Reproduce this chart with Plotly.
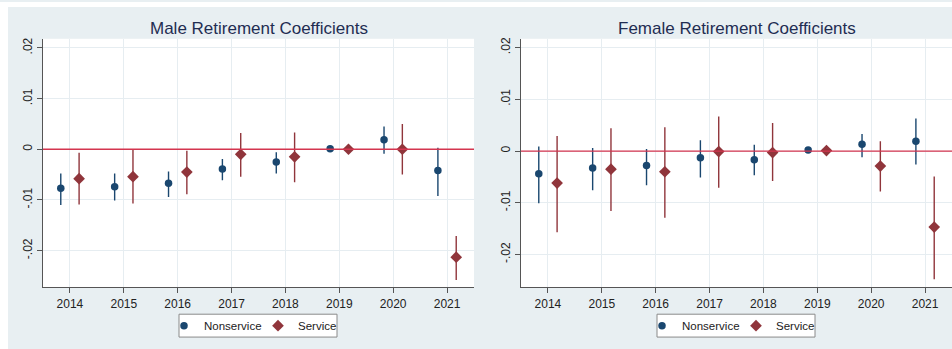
import plotly.graph_objects as go

years = [2014, 2015, 2016, 2017, 2018, 2019, 2020, 2021]

# Male panel
male_nonservice = [-0.0077, -0.0074, -0.0067, -0.0039, -0.0025, 0.0001, 0.0019, -0.0042]
male_nonservice_hi = [-0.0048, -0.0048, -0.0044, -0.0019, -0.0006, 0.0001, 0.0045, 0.0003]
male_nonservice_lo = [-0.0110, -0.0101, -0.0094, -0.0061, -0.0048, 0.0001, -0.0009, -0.0092]
male_service = [-0.0058, -0.0054, -0.0045, -0.0010, -0.0015, 0.0000, 0.0000, -0.0213]
male_service_hi = [-0.0007, 0.0000, -0.0003, 0.0032, 0.0033, 0.0000, 0.0050, -0.0171]
male_service_lo = [-0.0109, -0.0107, -0.0089, -0.0054, -0.0065, 0.0000, -0.0050, -0.0258]

# Female panel
female_nonservice = [-0.0044, -0.0033, -0.0028, -0.0013, -0.0017, 0.0002, 0.0013, 0.0019]
female_nonservice_hi = [0.0009, 0.0006, 0.0004, 0.0021, 0.0012, 0.0002, 0.0033, 0.0063]
female_nonservice_lo = [-0.0101, -0.0076, -0.0066, -0.0051, -0.0047, 0.0002, -0.0012, -0.0026]
female_service = [-0.0062, -0.0035, -0.0040, -0.0001, -0.0003, 0.0001, -0.0029, -0.0147]
female_service_hi = [0.0029, 0.0044, 0.0046, 0.0067, 0.0054, 0.0001, 0.0019, -0.0049]
female_service_lo = [-0.0157, -0.0116, -0.0129, -0.0071, -0.0058, 0.0001, -0.0078, -0.0248]

y_tick_vals = [-0.02, -0.01, 0, 0.01, 0.02]
y_tick_text = ["-.02", "-.01", "0", ".01", ".02"]
titles = ["Male Retirement Coefficients", "Female Retirement Coefficients"]
series_names = ["Nonservice", "Service"]

W, H = 952, 349
NAVY = "#1a476f"
MAROON = "#90353b"
BG = "#e8eff2"
FONT = "Liberation Sans, Arial, sans-serif"
offset = 0.17

fig = go.Figure()


def add_series(x, y, hi, lo, name, color, symbol, size, xa, ya, legend):
    fig.add_trace(go.Scatter(
        x=[v + (-offset if name == "Nonservice" else offset) for v in x],
        y=y,
        mode="markers",
        name=name,
        marker=dict(color=color, symbol=symbol, size=size, line=dict(width=0)),
        error_y=dict(type="data", symmetric=False,
                     array=[h - v for h, v in zip(hi, y)],
                     arrayminus=[v - l for l, v in zip(lo, y)],
                     color=color, thickness=1.4, width=0),
        xaxis=xa, yaxis=ya, legend=legend, showlegend=True,
    ))


add_series(years, male_nonservice, male_nonservice_hi, male_nonservice_lo,
           series_names[0], NAVY, "circle", 7.5, "x", "y", "legend")
add_series(years, male_service, male_service_hi, male_service_lo,
           series_names[1], MAROON, "diamond", 9, "x", "y", "legend")
add_series(years, female_nonservice, female_nonservice_hi, female_nonservice_lo,
           series_names[0], NAVY, "circle", 7.5, "x2", "y2", "legend2")
add_series(years, female_service, female_service_hi, female_service_lo,
           series_names[1], MAROON, "diamond", 9, "x2", "y2", "legend2")

left_dom = [43 / W, 474 / W]
right_dom = [521 / W, 952 / W]
y_dom = [1 - 287 / H, 1 - 37 / H]

# legend frames (pixel positions converted to paper fractions)
leg_boxes = [(179, 337), (657, 815)]
leg_top, leg_bot = 314, 337

xcommon = dict(tickvals=years, ticktext=[str(y) for y in years], range=[2013.5, 2021.5],
               showgrid=True, gridcolor="#e6edf1", gridwidth=1,
               showline=True, linecolor="#555555", linewidth=1.2,
               ticks="outside", ticklen=5, tickcolor="#555555",
               tickfont=dict(family=FONT, size=12, color="#222222"),
               zeroline=False, fixedrange=True)
ycommon = dict(tickvals=y_tick_vals, ticktext=y_tick_text, tickangle=-90,
               showgrid=True, gridcolor="#e6edf1", gridwidth=1,
               showline=True, linecolor="#555555", linewidth=1.2,
               ticks="outside", ticklen=5, tickcolor="#555555",
               tickfont=dict(family=FONT, size=12, color="#222222"),
               ticklabelstandoff=0,
               zeroline=False, fixedrange=True)

legend_common = dict(orientation="h", bgcolor="rgba(0,0,0,0)", borderwidth=0,
                     font=dict(family=FONT, size=11.5, color="#222222"),
                     xanchor="left", yanchor="middle", y=1 - ((leg_top + leg_bot) / 2) / H,
                     itemwidth=30, tracegroupgap=0, entrywidth=61,
                     indentation=-12)

shapes = [
    dict(type="rect", xref="paper", yref="paper", x0=0, x1=1, y0=1 - 5 / H, y1=1,
         fillcolor="white", line=dict(width=0), layer="below"),
    dict(type="rect", xref="paper", yref="paper", x0=0, x1=8 / W, y0=0, y1=1,
         fillcolor="white", line=dict(width=0), layer="below"),
    dict(type="line", xref="x domain", yref="y", x0=0, x1=1, y0=0, y1=0,
         line=dict(color="#d4354f", width=1.3), layer="above"),
    dict(type="line", xref="x2 domain", yref="y2", x0=0, x1=1, y0=0, y1=0,
         line=dict(color="#d4354f", width=1.3), layer="above"),
]
for bx0, bx1 in leg_boxes:
    shapes.append(dict(type="rect", xref="paper", yref="paper",
                       x0=bx0 / W, x1=bx1 / W, y0=1 - leg_bot / H, y1=1 - leg_top / H,
                       fillcolor="white", line=dict(color="#8a8a8a", width=1), layer="below"))

fig.update_layout(
    width=W, height=H,
    margin=dict(l=0, r=0, t=0, b=0),
    paper_bgcolor=BG,
    plot_bgcolor="white",
    xaxis=dict(domain=left_dom, anchor="y", **xcommon),
    yaxis=dict(domain=y_dom, anchor="x", range=[-0.02725, 0.0218], **ycommon),
    xaxis2=dict(domain=right_dom, anchor="y2", **xcommon),
    yaxis2=dict(domain=y_dom, anchor="x2", range=[-0.02635, 0.0217], **ycommon),
    legend=dict(x=(leg_boxes[0][0] - 3) / W, **legend_common),
    legend2=dict(x=(leg_boxes[1][0] - 3) / W, **legend_common),
    shapes=shapes,
    annotations=[
        dict(text=titles[0], xref="paper", yref="paper", x=sum(left_dom) / 2, y=1 - 27 / H,
             xanchor="center", yanchor="middle", showarrow=False,
             font=dict(family=FONT, size=17, color="#1f2d52")),
        dict(text=titles[1], xref="paper", yref="paper", x=sum(right_dom) / 2, y=1 - 27 / H,
             xanchor="center", yanchor="middle", showarrow=False,
             font=dict(family=FONT, size=17, color="#1f2d52")),
    ],
)

fig.write_html("out.html", config={"displayModeBar": False},
               post_script="document.body.style.margin='0';document.body.style.padding='0';")
